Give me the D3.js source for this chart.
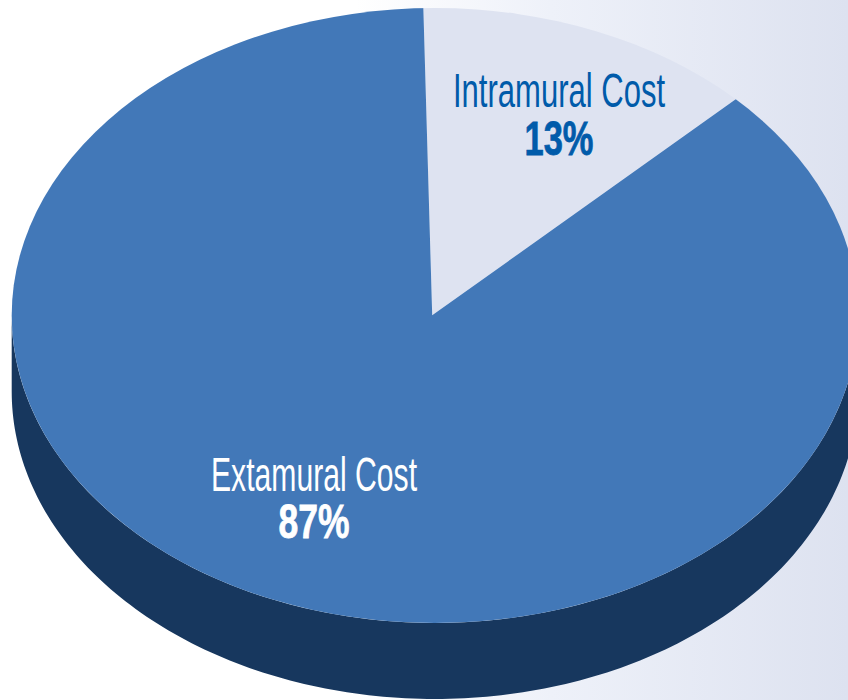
<!DOCTYPE html>
<html>
<head>
<meta charset="utf-8">
<script src="https://cdn.jsdelivr.net/npm/d3@7"></script>
<style>
html, body { margin: 0; padding: 0; background: #fff; overflow: hidden; }
svg { display: block; }
text { font-family: "Liberation Sans Narrow", "Liberation Sans", sans-serif; }
</style>
</head>
<body>
<div id="chart"></div>
<script>
var categories = ['Intramural Cost', 'Extamural Cost'];
var shares = [13, 87];
var shareLabels = ['13%', '87%'];

var width = 848, height = 700;
// the disc outline and the point where the slices meet are not quite concentric in the picture
var cx = 434.9, cy = 315.5, rx = 423.2, ry = 307.5, depth = 76;
var apexX = 432.2, apexY = 315.3;
// angle of the first slice edge, just left of 12 o'clock
var startAngle = -1.2 * Math.PI / 180;

var colors = ['#dee3f1', '#4278b8'];
var sideColor = '#17375e';
var labelColors = ['#005baa', '#ffffff'];

var svg = d3.select('#chart').append('svg')
    .attr('width', width)
    .attr('height', height);

var defs = svg.append('defs');

var grad = defs.append('linearGradient')
    .attr('id', 'bg')
    .attr('x1', '0%').attr('x2', '100%')
    .attr('y1', '0%').attr('y2', '0%');
grad.append('stop').attr('offset', '42%').attr('stop-color', '#ffffff');
grad.append('stop').attr('offset', '65%').attr('stop-color', '#eef1f9');
grad.append('stop').attr('offset', '100%').attr('stop-color', '#dde2f0');

defs.append('clipPath')
    .attr('id', 'disc')
    .append('ellipse')
    .attr('cx', cx).attr('cy', cy)
    .attr('rx', rx).attr('ry', ry);

svg.append('rect')
    .attr('width', width)
    .attr('height', height)
    .attr('fill', 'url(#bg)');

// side wall of the disc: lower half of the ellipse, extruded down
var wall = d3.area()
    .x(function (a) { return cx + rx * Math.cos(a); })
    .y0(function (a) { return cy + ry * Math.sin(a); })
    .y1(function (a) { return cy + depth + ry * Math.sin(a); });

svg.append('path')
    .attr('d', wall(d3.range(0, 181).map(function (d) { return d * Math.PI / 180; })))
    .attr('fill', sideColor);

var pie = d3.pie()
    .sort(null)
    .startAngle(startAngle)
    .endAngle(startAngle + 2 * Math.PI);

// slices run past the rim and get trimmed by the disc clip
var arc = d3.arc().innerRadius(0).outerRadius(rx + 10);

svg.append('g')
    .attr('clip-path', 'url(#disc)')
    .append('g')
    .attr('transform', 'translate(' + apexX + ',' + apexY + ') scale(1,' + (ry / rx) + ')')
    .selectAll('path')
    .data(pie(shares))
    .enter().append('path')
    .attr('d', arc)
    .attr('fill', function (d, i) { return colors[i]; });

// label x, baselines and fitted widths as measured on the picture
var labelX = [559, 314];
var nameY = [107, 490.5];
var shareY = [155, 538];
var nameW = [212, 206];
var shareW = [69, 71];

var labels = svg.selectAll('.label')
    .data(categories)
    .enter().append('g')
    .attr('class', 'label')
    .attr('text-anchor', 'middle')
    .attr('fill', function (d, i) { return labelColors[i]; });

labels.append('text')
    .attr('x', function (d, i) { return labelX[i]; })
    .attr('y', function (d, i) { return nameY[i]; })
    .attr('font-size', 49)
    .attr('textLength', function (d, i) { return nameW[i]; })
    .attr('lengthAdjust', 'spacingAndGlyphs')
    .text(function (d) { return d; });

labels.append('text')
    .attr('x', function (d, i) { return labelX[i]; })
    .attr('y', function (d, i) { return shareY[i]; })
    .attr('font-size', 49)
    .attr('font-weight', 'bold')
    .attr('stroke', function (d, i) { return labelColors[i]; })
    .attr('stroke-width', 0.8)
    .attr('textLength', function (d, i) { return shareW[i]; })
    .attr('lengthAdjust', 'spacingAndGlyphs')
    .text(function (d, i) { return shareLabels[i]; });
</script>
</body>
</html>
